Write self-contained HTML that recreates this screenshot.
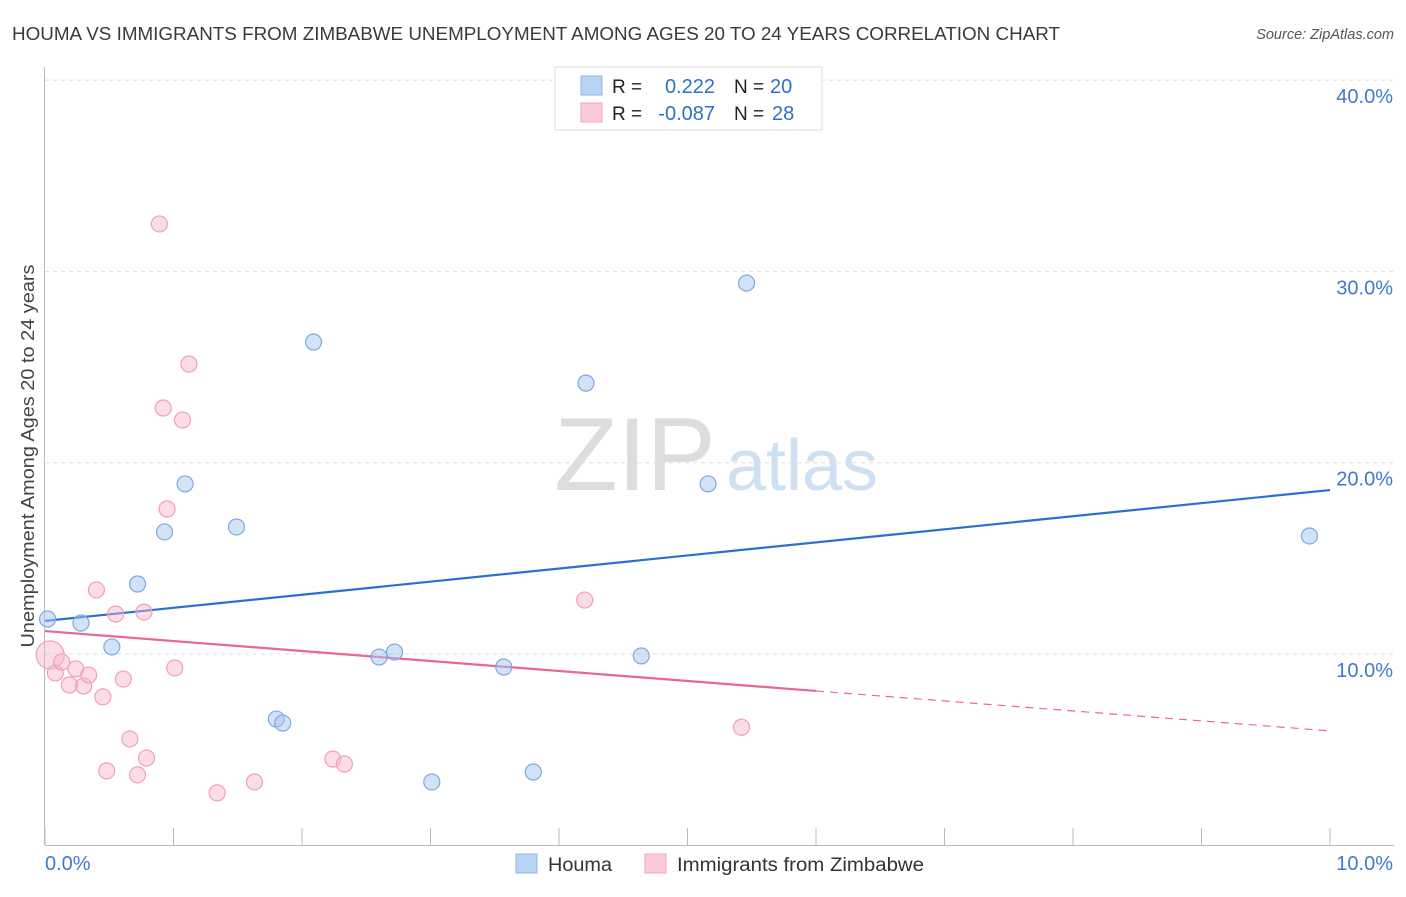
<!DOCTYPE html>
<html><head><meta charset="utf-8"><style>
body{margin:0;background:#fff;font-family:"Liberation Sans",sans-serif;}
svg text{font-family:"Liberation Sans",sans-serif;}
</style></head><body>
<svg id="chart" width="1406" height="892" xmlns="http://www.w3.org/2000/svg">
<text x="12" y="40" font-size="18" fill="#3a3a3a" textLength="1048" lengthAdjust="spacingAndGlyphs">HOUMA VS IMMIGRANTS FROM ZIMBABWE UNEMPLOYMENT AMONG AGES 20 TO 24 YEARS CORRELATION CHART</text>
<text x="1394" y="39" font-size="14.5" fill="#555" text-anchor="end" font-style="italic">Source: ZipAtlas.com</text>
<text transform="translate(34,456) rotate(-90)" font-size="18.5" fill="#444" text-anchor="middle" textLength="383" lengthAdjust="spacingAndGlyphs">Unemployment Among Ages 20 to 24 years</text>
<g>
<text x="635" y="490" font-size="104" font-family="Liberation Serif" fill="#ddd" text-anchor="middle">ZIP</text>
<text x="802" y="490" font-size="72" fill="#cfe0f3" text-anchor="middle">atlas</text>
</g>
<g id="grid"></g><g id="axes"></g><g id="trend"></g><g id="pts"></g>
<g>
<rect x="555" y="67" width="267" height="63" fill="#fff" stroke="#ddd"/>
<rect x="581" y="76" width="21" height="19" fill="#b8d3f3" stroke="#8fb4e6"/>
<rect x="581" y="103" width="21" height="19" fill="#fac8d7" stroke="#f0a8be"/>
<text x="612" y="93" font-size="19" fill="#222">R =</text>
<text x="715" y="93" font-size="20" fill="#2f6fcc" text-anchor="end">0.222</text>
<text x="734" y="93" font-size="19" fill="#222">N =</text>
<text x="770" y="93" font-size="20" fill="#2f6fcc">20</text>
<text x="612" y="120" font-size="19" fill="#222">R =</text>
<text x="715" y="120" font-size="20" fill="#2f6fcc" text-anchor="end">-0.087</text>
<text x="734" y="120" font-size="19" fill="#222">N =</text>
<text x="772" y="120" font-size="20" fill="#2f6fcc">28</text>
</g>
<g>
<rect x="516" y="854" width="21" height="19" fill="#b8d3f3" stroke="#8fb4e6"/>
<text x="548" y="871" font-size="19" fill="#333" textLength="64" lengthAdjust="spacingAndGlyphs">Houma</text>
<rect x="645" y="854" width="21" height="19" fill="#fac8d7" stroke="#f0a8be"/>
<text x="677" y="871" font-size="19" fill="#333" textLength="247" lengthAdjust="spacingAndGlyphs">Immigrants from Zimbabwe</text>
</g>
</svg>
<script>
const xTicks=[0,1,2,3,4,5,6,7,8,9,10];
const yTicks=[10,20,30,40];
const houmaX=[0.02,0.28,0.52,0.72,0.93,1.09,1.49,2.09,1.80,1.85,2.60,2.72,3.01,3.57,3.80,4.21,4.64,5.16,5.46,9.84];
const houmaY=[11.83,11.62,10.37,13.66,16.38,18.89,16.64,26.31,6.60,6.39,9.84,10.10,3.31,9.32,3.83,24.16,9.90,18.89,29.39,16.17];
const zimX=[0.04,0.08,0.13,0.19,0.24,0.30,0.34,0.40,0.45,0.48,0.55,0.61,0.66,0.72,0.77,0.79,0.89,0.92,0.95,1.01,1.07,1.12,1.34,1.63,2.24,2.33,4.20,5.42];
const zimY=[9.95,9.01,9.58,8.38,9.22,8.33,8.90,13.35,7.76,3.89,12.09,8.69,5.56,3.68,12.19,4.56,32.48,22.86,17.58,9.27,22.23,25.16,2.74,3.31,4.51,4.25,12.82,6.17];
const houmaTrend=[11.73,18.57];
const zimTrend=[11.2,5.98];
const zimSolidEnd=6.0;
const X=v=>45+v*128.5, Y=v=>845.3-v*19.13;
const NS="http://www.w3.org/2000/svg";
function mk(parent,tag,attrs){const e=document.createElementNS(NS,tag);for(const k in attrs)e.setAttribute(k,attrs[k]);document.getElementById(parent).appendChild(e);return e;}
yTicks.forEach(t=>{
 const l=mk('grid','line',{x1:45,x2:1394,y1:Y(t),y2:Y(t),stroke:'#ddd','stroke-dasharray':'4 4'});
 
 
 const tx=mk('grid','text',{x:1393,y:Y(t)+23,'font-size':20,fill:'#3f79cf','text-anchor':'end'});tx.textContent=t.toFixed(1)+'%';
 
 
});
const al=mk('axes','line',{x1:45,x2:1394,y1:845.5,y2:845.5,stroke:'#bbb'});


const yl=mk('axes','line',{x1:44.5,x2:44.5,y1:67,y2:845,stroke:'#bbb'});


xTicks.forEach(t=>{const l=mk('axes','line',{x1:X(t),x2:X(t),y1:828,y2:845,stroke:'#bbb'});
 
 });
[[0,'start',45],[10,'end',1393]].forEach(([t,a,x])=>{const tx=mk('axes','text',{x:x,y:870,'font-size':20,fill:'#3f79cf','text-anchor':a});tx.textContent=t.toFixed(1)+'%';
 
 });
const bt=mk('trend','line',{x1:X(0),y1:Y(houmaTrend[0]),x2:X(10),y2:Y(houmaTrend[1]),stroke:'#2b6fd0','stroke-width':2.2});


const zy=v=>zimTrend[0]+(zimTrend[1]-zimTrend[0])*v/10;
const pt=mk('trend','line',{x1:X(0),y1:Y(zy(0)),x2:X(zimSolidEnd),y2:Y(zy(zimSolidEnd)),stroke:'#e8679a','stroke-width':2.2});


const pd=mk('trend','line',{x1:X(zimSolidEnd),y1:Y(zy(zimSolidEnd)),x2:X(10),y2:Y(zy(10)),stroke:'#e8679a','stroke-width':1.2,'stroke-dasharray':'8 6'});


zimX.forEach((x,i)=>{const c=mk('pts','circle',{cx:X(x),cy:Y(zimY[i]),r:i==0?14:8,fill:'rgba(248,180,202,0.45)',stroke:'#f0a0ba','stroke-width':1.2});
 
 });
houmaX.forEach((x,i)=>{const c=mk('pts','circle',{cx:X(x),cy:Y(houmaY[i]),r:8,fill:'rgba(168,200,240,0.5)',stroke:'#7ea9e0','stroke-width':1.2});
 
 });
</script>
</body></html>
